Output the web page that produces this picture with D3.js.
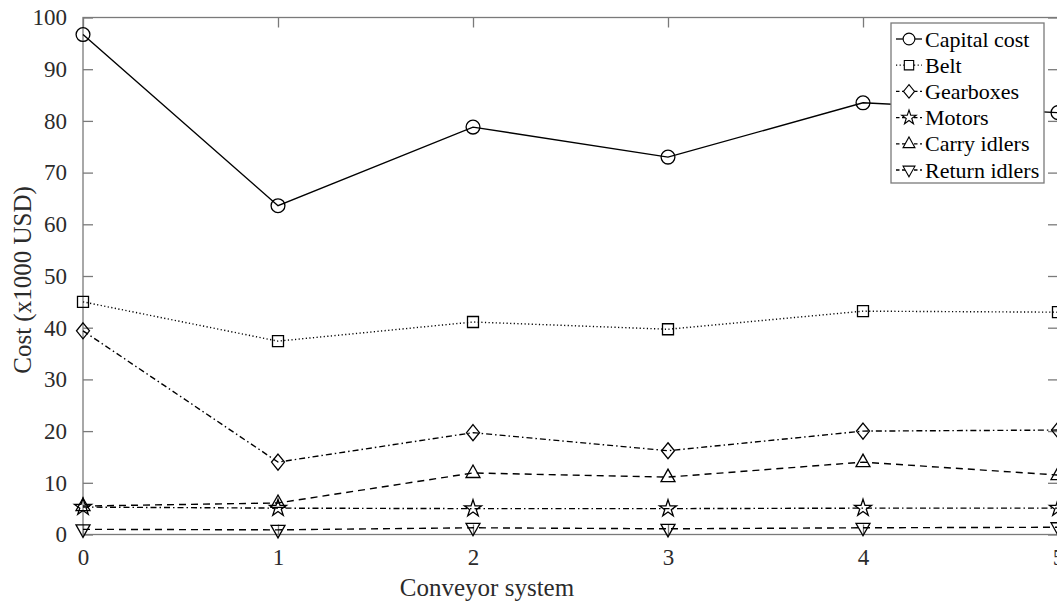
<!DOCTYPE html>
<html>
<head>
<meta charset="utf-8">
<script src="https://cdn.jsdelivr.net/npm/d3@7"></script>
<style>
  html, body { margin: 0; padding: 0; background: #fff; }
  svg { display: block; }
  svg text { font-family: "Liberation Serif", "Times New Roman", serif; }
</style>
</head>
<body>
<svg id="chart" width="1057" height="603"></svg>
<script>
// Conveyor system index on the x axis
const systems = [0, 1, 2, 3, 4, 5];

// Cost components (x1000 USD)
const capitalCost  = [96.7, 63.6, 78.8, 73.0, 83.5, 81.6];
const belt         = [45.0, 37.4, 41.1, 39.7, 43.2, 43.0];
const gearboxes    = [39.4, 14.0, 19.7, 16.2, 20.0, 20.2];
const motors       = [5.3, 5.1, 5.0, 5.0, 5.1, 5.1];
const carryIdlers  = [5.5, 6.1, 11.9, 11.1, 14.0, 11.5];
const returnIdlers = [1.0, 0.9, 1.3, 1.1, 1.3, 1.4];

const seriesNames = ["Capital cost", "Belt", "Gearboxes", "Motors", "Carry idlers", "Return idlers"];
const xTicks = [0, 1, 2, 3, 4, 5];
const yTicks = [0, 10, 20, 30, 40, 50, 60, 70, 80, 90, 100];

const series = [
  { name: seriesNames[0], values: capitalCost,  dash: null,        marker: "circle" },
  { name: seriesNames[1], values: belt,         dash: "1.2,2.4",   marker: "square" },
  { name: seriesNames[2], values: gearboxes,    dash: "6,3,1.5,3", marker: "diamond" },
  { name: seriesNames[3], values: motors,       dash: "6,3,1.5,3", marker: "star" },
  { name: seriesNames[4], values: carryIdlers,  dash: "7,5",       marker: "triUp" },
  { name: seriesNames[5], values: returnIdlers, dash: "7,5",       marker: "triDown" }
];

const svg = d3.select("#chart");
const plotL = 83, plotR = 1058, plotT = 17.5, plotB = 534.5;

const x = d3.scaleLinear().domain([0, 5]).range([plotL, plotR]);
const y = d3.scaleLinear().domain([0, 100]).range([plotB, plotT]);

const axisColor = "#7a7a7a";
const textColor = "#2b2b2b";
const serif = '"Liberation Serif", "Times New Roman", serif';

// Marker path generators, centred on the origin
function markerPath(kind) {
  switch (kind) {
    case "circle":  return d3.symbol().type(d3.symbolCircle).size(150)();
    case "square":  return "M-5.5,-5.5H5.5V5.5H-5.5Z";
    case "diamond": return "M0,-8L6.5,0L0,8L-6.5,0Z";
    case "star":    return d3.symbol().type(d3.symbolStar).size(90)();
    case "triUp":   return "M0,-8L7,4.5H-7Z";
    case "triDown": return "M0,8L7,-4.5H-7Z";
  }
}

// Box: axis lines on all four sides
const g = svg.append("g");
g.append("rect")
  .attr("x", plotL).attr("y", plotT)
  .attr("width", plotR - plotL).attr("height", plotB - plotT)
  .attr("fill", "none").attr("stroke", axisColor).attr("stroke-width", 1.3);

// Inward ticks on left/right and bottom/top
const tickLen = 10;
const fmt = d3.format("d");
const yAxisL = d3.axisLeft(y).tickValues(yTicks).tickFormat(fmt).tickSize(-tickLen).tickPadding(tickLen + 6);
const yAxisR = d3.axisRight(y).tickValues(yTicks).tickSize(-tickLen).tickFormat("");
const xAxisB = d3.axisBottom(x).tickValues(xTicks).tickFormat(fmt).tickSize(-tickLen).tickPadding(tickLen + 4);
const xAxisT = d3.axisTop(x).tickValues(xTicks).tickSize(-tickLen).tickFormat("");

function styleAxis(sel) {
  sel.attr("font-family", serif).attr("font-size", 23);
  sel.select(".domain").remove();
  sel.selectAll(".tick line").attr("stroke", axisColor).attr("stroke-width", 1.3);
  sel.selectAll(".tick text").attr("fill", textColor);
}

g.append("g").attr("transform", `translate(${plotL},0)`).call(yAxisL).call(styleAxis);
g.append("g").attr("transform", `translate(${plotR},0)`).call(yAxisR).call(styleAxis);
g.append("g").attr("transform", `translate(0,${plotB})`).call(xAxisB).call(styleAxis);
g.append("g").attr("transform", `translate(0,${plotT})`).call(xAxisT).call(styleAxis);

// Axis titles
svg.append("text")
  .attr("x", 487).attr("y", 596)
  .attr("text-anchor", "middle")
  .attr("fill", textColor).attr("font-size", 25)
  .text("Conveyor system");

svg.append("text")
  .attr("transform", `translate(31,${(plotT + plotB) / 2 + 4}) rotate(-90)`)
  .attr("text-anchor", "middle")
  .attr("fill", textColor).attr("font-size", 25)
  .text("Cost (x1000 USD)");

// Series lines and markers
const line = d3.line().x((d, i) => x(systems[i])).y(d => y(d));

series.forEach(s => {
  const sg = svg.append("g");
  sg.append("path")
    .datum(s.values)
    .attr("d", line)
    .attr("fill", "none")
    .attr("stroke", "#000")
    .attr("stroke-width", 1.4)
    .attr("stroke-dasharray", s.dash);
  sg.selectAll("path.mk")
    .data(s.values)
    .join("path")
    .attr("class", "mk")
    .attr("d", markerPath(s.marker))
    .attr("transform", (d, i) => `translate(${x(systems[i])},${y(d)})`)
    .attr("fill", "none")
    .attr("stroke", "#000")
    .attr("stroke-width", 1.3);
});

// Legend
const lgX = 891, lgY = 23, lgW = 153, lgH = 160, rowH = 26.2;
const lg = svg.append("g");
lg.append("rect")
  .attr("x", lgX).attr("y", lgY).attr("width", lgW).attr("height", lgH)
  .attr("fill", "#fff").attr("stroke", axisColor).attr("stroke-width", 1.3);

series.forEach((s, i) => {
  const cy = lgY + 16 + i * rowH;
  const row = lg.append("g");
  row.append("line")
    .attr("x1", lgX + 5).attr("x2", lgX + 31)
    .attr("y1", cy).attr("y2", cy)
    .attr("stroke", "#000").attr("stroke-width", 1.3)
    .attr("stroke-dasharray", s.dash ? (s.marker === "square" ? "1.2,2.4" : "3.5,2.5") : null);
  row.append("path")
    .attr("d", markerPath(s.marker))
    .attr("transform", `translate(${lgX + 18},${cy}) scale(0.85)`)
    .attr("fill", "#fff").attr("stroke", "#000").attr("stroke-width", 1.3);
  row.append("text")
    .attr("x", lgX + 34).attr("y", cy + 7.5)
    .attr("fill", "#000").attr("font-size", 22)
    .text(s.name);
});
</script>
</body>
</html>
